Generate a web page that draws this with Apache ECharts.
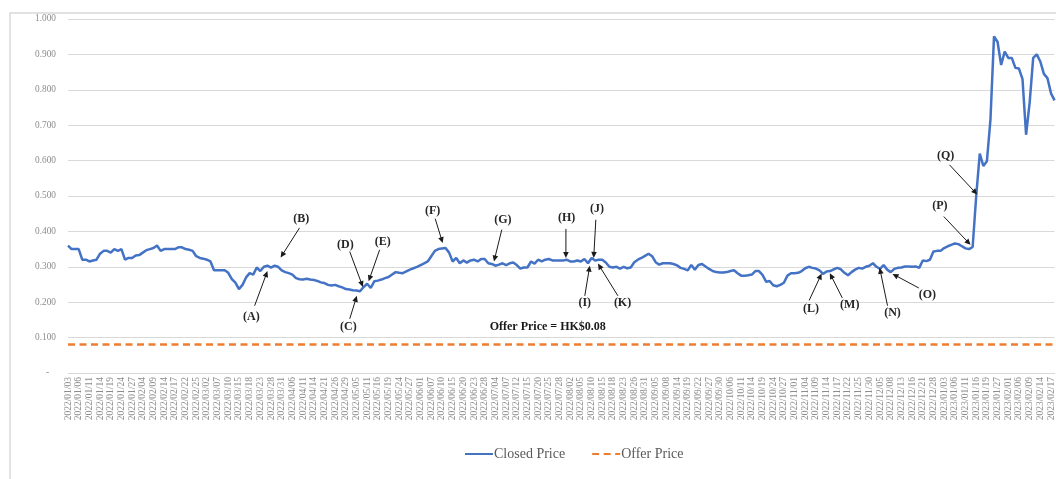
<!DOCTYPE html>
<html><head><meta charset="utf-8">
<script src="https://cdn.jsdelivr.net/npm/echarts@6/dist/echarts.min.js"></script>
<style>html,body{margin:0;padding:0;background:#fff;overflow:hidden}#c{width:1056px;height:479px}</style>
</head><body><div id="c"></div>
<script>
// ---- DATA ----
const categories = [
'2022/01/03','2022/01/04','2022/01/05','2022/01/06','2022/01/07','2022/01/10','2022/01/11','2022/01/12','2022/01/13','2022/01/14','2022/01/17','2022/01/18','2022/01/19','2022/01/20','2022/01/21','2022/01/24','2022/01/25','2022/01/26','2022/01/27','2022/01/28','2022/01/31',
'2022/02/04','2022/02/07','2022/02/08','2022/02/09','2022/02/10','2022/02/11','2022/02/14','2022/02/15','2022/02/16','2022/02/17','2022/02/18','2022/02/21','2022/02/22','2022/02/23','2022/02/24','2022/02/25','2022/02/28',
'2022/03/01','2022/03/02','2022/03/03','2022/03/04','2022/03/07','2022/03/08','2022/03/09','2022/03/10','2022/03/11','2022/03/14','2022/03/15','2022/03/16','2022/03/17','2022/03/18','2022/03/21','2022/03/22','2022/03/23','2022/03/24','2022/03/25','2022/03/28','2022/03/29','2022/03/30','2022/03/31',
'2022/04/01','2022/04/04','2022/04/06','2022/04/07','2022/04/08','2022/04/11','2022/04/12','2022/04/13','2022/04/14','2022/04/19','2022/04/20','2022/04/21','2022/04/22','2022/04/25','2022/04/26','2022/04/27','2022/04/28','2022/04/29',
'2022/05/03','2022/05/04','2022/05/05','2022/05/06','2022/05/10','2022/05/11','2022/05/12','2022/05/13','2022/05/16','2022/05/17','2022/05/18','2022/05/19','2022/05/20','2022/05/23','2022/05/24','2022/05/25','2022/05/26','2022/05/27','2022/05/30','2022/05/31',
'2022/06/01','2022/06/02','2022/06/06','2022/06/07','2022/06/08','2022/06/09','2022/06/10','2022/06/13','2022/06/14','2022/06/15','2022/06/16','2022/06/17','2022/06/20','2022/06/21','2022/06/22','2022/06/23','2022/06/24','2022/06/27','2022/06/28','2022/06/29','2022/06/30',
'2022/07/04','2022/07/05','2022/07/06','2022/07/07','2022/07/08','2022/07/11','2022/07/12','2022/07/13','2022/07/14','2022/07/15','2022/07/18','2022/07/19','2022/07/20','2022/07/21','2022/07/22','2022/07/25','2022/07/26','2022/07/27','2022/07/28','2022/07/29',
'2022/08/01','2022/08/02','2022/08/03','2022/08/04','2022/08/05','2022/08/08','2022/08/09','2022/08/10','2022/08/11','2022/08/12','2022/08/15','2022/08/16','2022/08/17','2022/08/18','2022/08/19','2022/08/22','2022/08/23','2022/08/24','2022/08/25','2022/08/26','2022/08/29','2022/08/30','2022/08/31',
'2022/09/01','2022/09/02','2022/09/05','2022/09/06','2022/09/07','2022/09/08','2022/09/09','2022/09/13','2022/09/14','2022/09/15','2022/09/16','2022/09/19','2022/09/20','2022/09/21','2022/09/22','2022/09/23','2022/09/26','2022/09/27','2022/09/28','2022/09/29','2022/09/30',
'2022/10/03','2022/10/05','2022/10/06','2022/10/07','2022/10/10','2022/10/11','2022/10/12','2022/10/13','2022/10/14','2022/10/17','2022/10/18','2022/10/19','2022/10/20','2022/10/21','2022/10/24','2022/10/25','2022/10/26','2022/10/27','2022/10/28','2022/10/31',
'2022/11/01','2022/11/02','2022/11/03','2022/11/04','2022/11/07','2022/11/08','2022/11/09','2022/11/10','2022/11/11','2022/11/14','2022/11/15','2022/11/16','2022/11/17','2022/11/18','2022/11/21','2022/11/22','2022/11/23','2022/11/24','2022/11/25','2022/11/28','2022/11/29','2022/11/30',
'2022/12/01','2022/12/02','2022/12/05','2022/12/06','2022/12/07','2022/12/08','2022/12/09','2022/12/12','2022/12/13','2022/12/14','2022/12/15','2022/12/16','2022/12/19','2022/12/20','2022/12/21','2022/12/22','2022/12/23','2022/12/28','2022/12/29','2022/12/30',
'2023/01/03','2023/01/04','2023/01/05','2023/01/06','2023/01/09','2023/01/10','2023/01/11','2023/01/12','2023/01/13','2023/01/16','2023/01/17','2023/01/18','2023/01/19','2023/01/20','2023/01/26','2023/01/27','2023/01/30','2023/01/31',
'2023/02/01','2023/02/02','2023/02/03','2023/02/06','2023/02/07','2023/02/08','2023/02/09','2023/02/10','2023/02/13','2023/02/14','2023/02/15','2023/02/16','2023/02/17','2023/02/20'
];

const closedPrice = [
0.36,0.35,0.35,0.35,0.32,0.32,0.315,0.318,0.32,0.337,
0.345,0.345,0.34,0.35,0.345,0.35,0.32,0.325,0.325,0.332,
0.333,0.34,0.347,0.35,0.353,0.36,0.345,0.35,0.35,0.35,
0.35,0.355,0.355,0.35,0.348,0.345,0.33,0.325,0.323,0.32,
0.315,0.29,0.29,0.29,0.29,0.283,0.265,0.255,0.237,0.249,
0.27,0.282,0.278,0.298,0.288,0.30,0.303,0.298,0.303,0.30,
0.29,0.285,0.282,0.278,0.268,0.265,0.264,0.266,0.264,0.263,
0.26,0.256,0.254,0.249,0.247,0.249,0.245,0.242,0.237,0.236,
0.234,0.233,0.231,0.243,0.252,0.24,0.259,0.261,0.264,0.268,
0.271,0.278,0.285,0.283,0.282,0.287,0.292,0.296,0.30,0.305,
0.31,0.315,0.33,0.345,0.35,0.352,0.353,0.34,0.315,0.325,
0.31,0.318,0.312,0.318,0.32,0.315,0.322,0.322,0.31,0.308,
0.303,0.306,0.31,0.305,0.31,0.312,0.305,0.295,0.298,0.298,
0.315,0.309,0.32,0.315,0.32,0.322,0.318,0.318,0.318,0.318,
0.32,0.315,0.315,0.318,0.315,0.322,0.31,0.325,0.318,0.32,
0.32,0.312,0.30,0.298,0.30,0.295,0.30,0.296,0.298,0.313,
0.32,0.325,0.331,0.337,0.33,0.313,0.306,0.31,0.31,0.31,
0.308,0.304,0.297,0.294,0.29,0.305,0.292,0.305,0.308,0.301,
0.294,0.288,0.285,0.284,0.284,0.285,0.288,0.29,0.282,0.275,
0.275,0.276,0.278,0.288,0.288,0.277,0.258,0.26,0.248,0.245,
0.249,0.255,0.275,0.282,0.282,0.283,0.288,0.296,0.30,0.297,
0.295,0.29,0.28,0.287,0.288,0.293,0.297,0.293,0.283,0.276,
0.285,0.292,0.297,0.295,0.30,0.303,0.31,0.30,0.294,0.305,
0.292,0.285,0.294,0.297,0.298,0.301,0.301,0.30,0.301,0.297,
0.318,0.316,0.32,0.343,0.345,0.345,0.353,0.358,0.362,0.366,
0.364,0.358,0.352,0.35,0.356,0.50,0.62,0.585,0.598,0.716,
0.951,0.935,0.87,0.908,0.89,0.89,0.862,0.86,0.83,0.673,
0.763,0.89,0.90,0.88,0.845,0.833,0.79,0.77
];

const offerPrice = 0.08;
const offerLabel = 'Offer Price = HK$0.08';
const seriesNames = ['Closed Price', 'Offer Price'];
const yTicks = [0, 0.1, 0.2, 0.3, 0.4, 0.5, 0.6, 0.7, 0.8, 0.9, 1.0];

// annotation labels: text, arrow tip [index, price], arrow tail, label centre (data space)
const annotations = [
  {t:'(A)', tip:[56.0,0.288], tail:[52.4,0.19], lab:[51.5,0.159]},
  {t:'(B)', tip:[59.7,0.326], tail:[65.0,0.41], lab:[65.5,0.436]},
  {t:'(C)', tip:[81.1,0.218], tail:[79.1,0.153], lab:[78.7,0.131]},
  {t:'(D)', tip:[82.8,0.243], tail:[79.1,0.343], lab:[77.9,0.362]},
  {t:'(E)', tip:[84.4,0.259], tail:[87.5,0.348], lab:[88.4,0.37]},
  {t:'(F)', tip:[105.2,0.367], tail:[103.1,0.436], lab:[102.4,0.459]},
  {t:'(G)', tip:[119.6,0.315], tail:[121.8,0.405], lab:[122.1,0.433]},
  {t:'(H)', tip:[139.8,0.325], tail:[139.8,0.407], lab:[140.0,0.438]},
  {t:'(I)', tip:[146.5,0.303], tail:[145.1,0.218], lab:[145.1,0.199]},
  {t:'(J)', tip:[147.6,0.325], tail:[148.2,0.433], lab:[148.5,0.463]},
  {t:'(K)', tip:[148.8,0.309], tail:[154.4,0.218], lab:[155.7,0.198]},
  {t:'(L)', tip:[211.6,0.281], tail:[208.1,0.205], lab:[208.6,0.181]},
  {t:'(M)', tip:[213.9,0.282], tail:[217.4,0.212], lab:[219.5,0.193]},
  {t:'(N)', tip:[227.9,0.297], tail:[230.1,0.19], lab:[231.5,0.169]},
  {t:'(O)', tip:[231.5,0.28], tail:[238.9,0.24], lab:[241.3,0.221]},
  {t:'(P)', tip:[253.4,0.362], tail:[245.9,0.442], lab:[244.8,0.473]},
  {t:'(Q)', tip:[255.3,0.504], tail:[247.5,0.588], lab:[246.4,0.612]}
];
const offerLabelPos = [134.7, 0.131];

// ---- CHART ----
const serif = '"Liberation Serif","Times New Roman",serif';
const chart = echarts.init(document.getElementById('c'));
const N = categories.length;
const blue = '#4472C4', orange = '#ED7D31';
const dash = [7, 4.5];

chart.setOption({
  animation: false,
  grid: {left: 68, right: -3, top: 19, bottom: 106, containLabel: false},
  legend: {
    left: 459, top: 442, itemGap: 26, itemWidth: 28, itemHeight: 10,
    itemStyle: {opacity: 0},
    textStyle: {fontFamily: serif, fontSize: 14, color: '#595959', padding: [0,0,0,-4]},
    data: seriesNames
  },
  xAxis: [{
    type: 'category', data: categories, boundaryGap: false,
    axisLine: {lineStyle: {color: '#d9d9d9', width: 1}},
    axisTick: {show: false},
    axisLabel: {rotate: 90, interval: 2, fontSize: 9.5, fontFamily: serif, color: '#8c8c8c', margin: 4}
  }, {
    type: 'value', min: 0, max: N - 1, show: false
  }],
  yAxis: {
    type: 'value', min: yTicks[0], max: yTicks[yTicks.length-1], interval: 0.1,
    axisLine: {show: false}, axisTick: {show: false},
    splitLine: {lineStyle: {color: '#d9d9d9', width: 1}},
    axisLabel: {
      margin: 12, color: '#8c8c8c', fontFamily: serif, fontSize: 9.3,
      formatter: v => v === 0 ? '{d|-}' : '{n|' + v.toFixed(3) + '}',
      rich: {
        d: {padding: [0, 7, 0, 0], color: '#8c8c8c', fontFamily: serif, fontSize: 9.3},
        n: {color: '#8c8c8c', fontFamily: serif, fontSize: 9.3}
      }
    }
  },
  series: [{
    name: seriesNames[0], type: 'line', data: closedPrice, symbol: 'none',
    lineStyle: {color: blue, width: 2.5}, itemStyle: {color: blue}, z: 3
  }, {
    name: seriesNames[1], type: 'line', data: [], symbol: 'none',
    lineStyle: {color: orange, width: 2.5, type: dash}, itemStyle: {color: orange},
    markLine: {
      silent: true, symbol: 'none', label: {show: false},
      lineStyle: {color: orange, width: 2.5, type: dash},
      data: [{yAxis: offerPrice}]
    }
  }]
});

function px(p) {
  return [chart.convertToPixel({xAxisIndex: 1}, p[0]), chart.convertToPixel({yAxisIndex: 0}, p[1])];
}
const g = [];
g.push({type: 'rect', z: -10, silent: true, shape: {x: 10, y: 13, width: 1200, height: 600},
  style: {fill: 'none', stroke: '#d9d9d9', lineWidth: 1.5}});
const font = 'bold 12px ' + serif;
annotations.forEach(a => {
  const tip = px(a.tip), tail = px(a.tail), lab = px(a.lab);
  const dx = tip[0] - tail[0], dy = tip[1] - tail[1];
  const len = Math.hypot(dx, dy), ux = dx / len, uy = dy / len;
  const hl = 6, hw = 2.8;
  const bx = tip[0] - ux * hl, by = tip[1] - uy * hl;
  g.push({type: 'line', z: 50, silent: true, shape: {x1: tail[0], y1: tail[1], x2: bx + ux, y2: by + uy},
    style: {stroke: '#1a1a1a', lineWidth: 1}});
  g.push({type: 'polygon', z: 50, silent: true,
    shape: {points: [[tip[0], tip[1]], [bx - uy * hw, by + ux * hw], [bx + uy * hw, by - ux * hw]]},
    style: {fill: '#1a1a1a'}});
  g.push({type: 'text', z: 50, silent: true,
    style: {text: a.t, x: lab[0], y: lab[1], font: font, fill: '#262626', align: 'center', verticalAlign: 'middle', textAlign: 'center', textVerticalAlign: 'middle'}});
});
const op = px(offerLabelPos);
g.push({type: 'text', z: 50, silent: true,
  style: {text: offerLabel, x: op[0], y: op[1], font: font, fill: '#1a1a1a', align: 'center', verticalAlign: 'middle', textAlign: 'center', textVerticalAlign: 'middle'}});
chart.setOption({graphic: g});
</script>
</body></html>
